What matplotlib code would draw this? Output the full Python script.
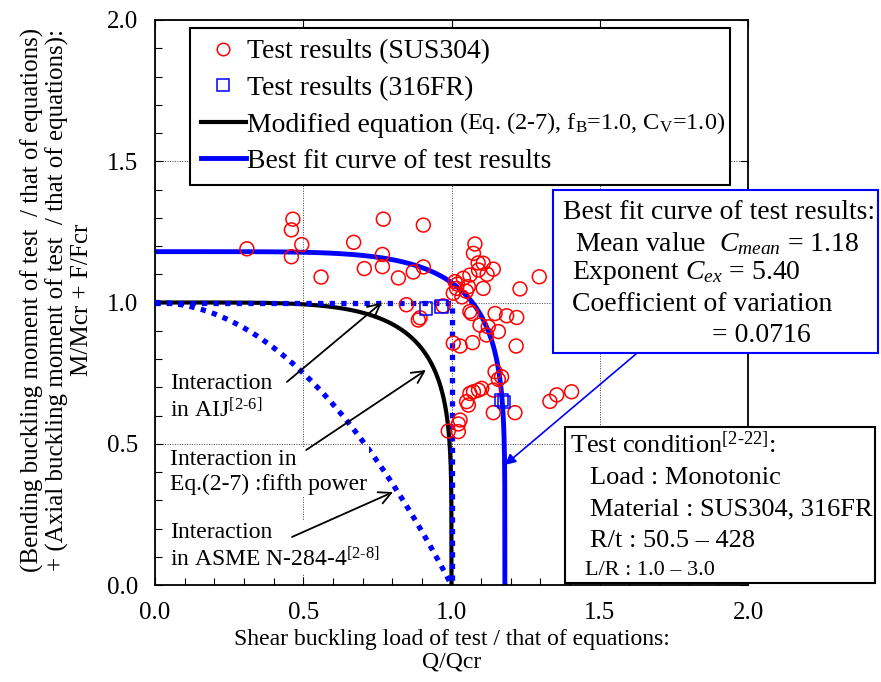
import numpy as np
import matplotlib
matplotlib.use("Agg")
import matplotlib.pyplot as plt
from matplotlib.lines import Line2D
from matplotlib.patches import Rectangle
from matplotlib.ticker import MultipleLocator, FormatStrFormatter

plt.rcParams.update({
    "font.family": "Liberation Serif",
    "mathtext.fontset": "custom",
    "mathtext.rm": "Liberation Serif",
    "mathtext.it": "Liberation Serif:italic",
})

# test results, SUS304 (Q/Qcr, M/Mcr + F/Fcr)
SUS_X = [0.31, 0.465, 0.46, 0.46, 0.495, 0.56, 0.67, 0.706, 0.77, 0.767, 0.767,
         0.821, 0.871, 0.905, 0.905, 0.848, 0.888, 0.894, 0.972, 1.079, 1.074,
         1.107, 1.141, 1.091, 1.062, 1.040, 1.012, 1.017, 1.006, 1.057, 1.107,
         1.231, 1.296, 1.068, 1.062, 1.147, 1.186, 1.220, 1.096, 1.124, 1.158,
         1.118, 1.006, 1.029, 1.071, 1.218, 1.147, 1.169, 1.158, 1.062, 1.074,
         1.091, 1.102, 1.141, 1.051, 1.057, 1.141, 1.214, 1.029, 1.023, 0.989,
         1.023, 1.332, 1.355, 1.405, 1.02, 1.035, 1.09, 1.12, 1.05]
SUS_Y = [1.19, 1.295, 1.257, 1.162, 1.205, 1.09, 1.213, 1.12, 1.295, 1.17, 1.127,
         1.087, 1.108, 1.274, 1.126, 0.992, 0.938, 0.946, 0.988, 1.207, 1.174,
         1.139, 1.118, 1.115, 1.097, 1.086, 1.074, 1.050, 1.033, 1.056, 1.050,
         1.048, 1.091, 0.961, 0.968, 0.961, 0.953, 0.947, 0.920, 0.914, 0.897,
         0.885, 0.856, 0.846, 0.858, 0.846, 0.755, 0.737, 0.728, 0.678, 0.684,
         0.690, 0.696, 0.690, 0.649, 0.637, 0.610, 0.610, 0.584, 0.570, 0.545,
         0.543, 0.650, 0.673, 0.684, 1.065, 1.02, 1.14, 1.10, 1.04]
# test results, 316FR
FR_X = [0.914, 0.967, 1.169, 1.177]
FR_Y = [0.979, 0.985, 0.655, 0.648]

C_MEAN = 1.18   # best fit: mean value
C_EX = 5.40     # best fit: exponent
N_MOD = 5.0     # modified equation: fifth power

t = np.linspace(0, np.pi / 2, 400)
mod_x = np.cos(t) ** (2 / N_MOD)
mod_y = np.sin(t) ** (2 / N_MOD)
fit_x = C_MEAN * np.cos(t) ** (2 / C_EX)
fit_y = C_MEAN * np.sin(t) ** (2 / C_EX)
aij_x = [0.0, 1.0, 1.0]
aij_y = [1.0, 1.0, 0.0]
asme_x = np.linspace(0, 1, 200)
asme_y = 1 - asme_x ** 2

BLUE = "#0000ff"
RED = "#ff0000"

fig = plt.figure(figsize=(8.81, 6.82), dpi=100)
ax = fig.add_axes([155 / 881, 1 - 585 / 682, 593 / 881, 565 / 682])

dots = (0, (1, 1.2))
ax.plot(asme_x, asme_y, color=BLUE, lw=3.8, ls=dots, zorder=3)
ax.plot(aij_x, aij_y, color=BLUE, lw=3.8, ls=dots, zorder=3)
ax.plot(mod_x, mod_y, color="black", lw=3.0, zorder=2)
ax.plot(fit_x, fit_y, color=BLUE, lw=3.5, zorder=2)
ax.scatter(SUS_X, SUS_Y, s=100, facecolors="none", edgecolors=RED, linewidths=1.1, zorder=5)
ax.scatter(FR_X, FR_Y, s=85, marker="s", facecolors="none", edgecolors=BLUE, linewidths=1.1, zorder=5)

ax.set_xlim(0, 2.0)
ax.set_ylim(0, 2.0)
for a in (ax.xaxis, ax.yaxis):
    a.set_major_locator(MultipleLocator(0.5))
    a.set_minor_locator(MultipleLocator(0.1))
    a.set_major_formatter(FormatStrFormatter("%.1f"))
ax.tick_params(which="both", direction="in", top=True, right=True, labelsize=18, pad=12)
ax.tick_params(which="major", length=6, width=0.8)
ax.tick_params(which="minor", length=5, width=0.8, top=False, right=False)
ax.grid(True, which="major", color="0.25", ls=(0, (1, 1.5)), lw=0.7)
for s in ax.spines.values():
    s.set_linewidth(1.3)

ax.set_xlabel("Shear buckling load of test / that of equations:\nQ/Qcr", fontsize=17,
              linespacing=1.1)
ax.xaxis.set_label_coords(0.5, -0.117)
ax.xaxis.label.set_va("center")
ax.set_ylabel("(Bending buckling moment of test  / that of equations)\n"
              "+ (Axial buckling moment of test  / that of equations):\n"
              "M/Mcr + F/Fcr", fontsize=18, linespacing=1.1)
ax.yaxis.set_label_coords(-0.166, 0.505)
ax.yaxis.label.set_va("center")

# legend
handles = [
    Line2D([], [], ls="none", marker="o", mfc="none", mec=RED, ms=9, mew=1.1),
    Line2D([], [], ls="none", marker="s", mfc="none", mec=BLUE, ms=9, mew=1.1),
    Line2D([], [], color="black", lw=3.0),
    Line2D([], [], color=BLUE, lw=3.5),
]
labels = ["Test results (SUS304)", "Test results (316FR)", "Modified equation",
          "Best fit curve of test results"]
leg = ax.legend(handles, labels, loc="upper left", bbox_to_anchor=(0.059, 0.712, 0.911, 0.274),
                mode="expand", fontsize=20, frameon=True, fancybox=False, framealpha=1,
                edgecolor="black", handlelength=1.6, handletextpad=0.05, labelspacing=0.4,
                borderpad=0.4, borderaxespad=0, numpoints=1)
leg.get_frame().set_linewidth(1.5)
leg.set_zorder(10)
ax.annotate("(Eq. (2-7), f$_\\mathregular{B}$=1.0, C$_\\mathregular{V}$=1.0)",
            xy=(1, 0), xycoords=leg.get_texts()[2], xytext=(4, 1), textcoords="offset points",
            fontsize=17.5, va="bottom", ha="left", zorder=11)

# annotations with arrows
box = dict(boxstyle="square,pad=0.1", fc="white", ec="none")
arrow = dict(arrowstyle="->", color="black", lw=1.3, mutation_scale=22, shrinkA=0, shrinkB=0)
ax.text(0.05, 0.662, "Interaction\nin AIJ$^{\\mathregular{[2\u20106]}}$", fontsize=17,
        va="center", ha="left", bbox=box, zorder=6)
ax.annotate("", xy=(0.765, 1.0), xytext=(0.445, 0.719), arrowprops=arrow, zorder=7)
ax.text(0.05, 0.40, "Interaction in\nEq.(2-7) :fifth power", fontsize=17,
        va="center", ha="left", bbox=box, zorder=6)
ax.annotate("", xy=(0.914, 0.761), xytext=(0.51, 0.478), arrowprops=arrow, zorder=7)
ax.text(0.05, 0.135, "Interaction\nin ASME N-284-4$^{\\mathregular{[2\u20108]}}$", fontsize=17,
        va="center", ha="left", bbox=box, zorder=6)
ax.annotate("", xy=(0.803, 0.329), xytext=(0.462, 0.170), arrowprops=arrow, zorder=7)

# best fit box
ax.add_patch(Rectangle((0.671, 0.411), 0.548, 0.288, transform=ax.transAxes, fc="white",
                       ec=BLUE, lw=1.5, clip_on=False, zorder=8))
fit_lines = [
    (0.688, 0.660, "Best fit curve of test results:"),
    (0.708, 0.605, "Mean value  $\\mathit{C_{mean}}$ = 1.18"),
    (0.703, 0.552, "Exponent $\\mathit{C_{ex}}$ = 5.40"),
    (0.703, 0.496, "Coefficient of variation"),
    (0.939, 0.441, "= 0.0716"),
]
for x, y, s in fit_lines:
    ax.text(x, y, s, transform=ax.transAxes, fontsize=20, va="center", ha="left",
            clip_on=False, zorder=9)
ax.annotate("", xy=(1.18, 0.425), xytext=(1.626, 0.821),
            arrowprops=dict(arrowstyle="-|>", color=BLUE, lw=1.2, mutation_scale=16,
                            shrinkA=0, shrinkB=0), zorder=7)

# test condition box
ax.add_patch(Rectangle((0.691, 0.0035), 0.523, 0.2765, transform=ax.transAxes, fc="white",
                       ec="black", lw=1.5, clip_on=False, zorder=8))
cond_lines = [
    (0.700, 0.248, "Test condition$^{\\mathregular{[2\u201022]}}$:", 19),
    (0.733, 0.189, "Load : Monotonic", 19),
    (0.733, 0.133, "Material : SUS304, 316FR", 19),
    (0.733, 0.078, "R/t : 50.5 \u2013 428", 19),
    (0.725, 0.025, "L/R : 1.0 \u2013 3.0", 16),
]
for x, y, s, fs in cond_lines:
    ax.text(x, y, s, transform=ax.transAxes, fontsize=fs, va="center", ha="left",
            clip_on=False, zorder=9)

fig.savefig("out.png", dpi=100)
